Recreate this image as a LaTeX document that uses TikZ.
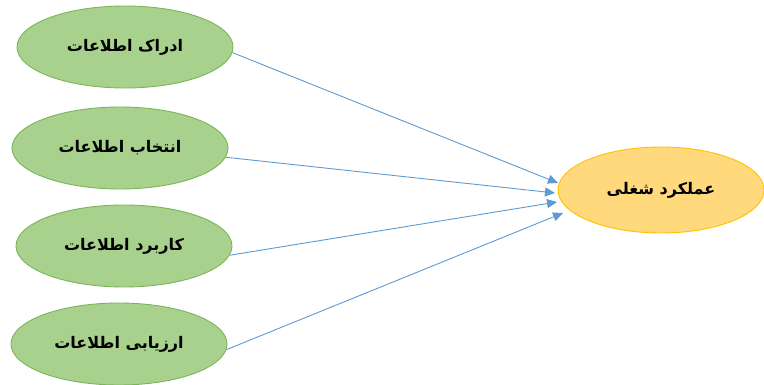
\documentclass[tikz,border=0pt]{standalone}
\usepackage{fontspec}
\newfontfamily\arabicfont[Script=Arabic]{DejaVu Sans}
\TeXXeTstate=1
\usetikzlibrary{shapes.geometric,arrows.meta}
\definecolor{gfill}{HTML}{A9D18E}
\definecolor{gdraw}{HTML}{7DB45A}
\definecolor{ofill}{HTML}{FFD97C}
\definecolor{odraw}{HTML}{FFC000}
\definecolor{ablue}{HTML}{5B9BD5}
\begin{document}
\begin{tikzpicture}[x=1pt,y=-1pt,
  gnode/.style={ellipse,draw=gdraw,fill=gfill,line width=0.9pt,minimum width=216pt,minimum height=82pt,inner sep=0pt,font=\arabicfont\bfseries\fontsize{16}{18}\selectfont},
  onode/.style={ellipse,draw=odraw,fill=ofill,line width=0.9pt,minimum width=206pt,minimum height=86pt,inner sep=0pt,font=\arabicfont\bfseries\fontsize{16}{18}\selectfont},
  conn/.style={draw=ablue,line width=0.9pt,-{Triangle[length=10pt,width=9pt]}}]
\useasboundingbox (0,0) rectangle (764,385);
\node[gnode] (a) at (125,47) {\beginR ادراک اطلاعات\endR};
\node[gnode] (b) at (120,148) {\beginR انتخاب اطلاعات\endR};
\node[gnode] (c) at (124,246) {\beginR کاربرد اطلاعات\endR};
\node[gnode] (d) at (119,344) {\beginR ارزیابی اطلاعات\endR};
\node[onode] (e) at (661,190) {\beginR عملکرد شغلی\endR};
\coordinate (t1) at (558,183);
\coordinate (t2) at (555,193);
\coordinate (t3) at (557,202);
\coordinate (t4) at (563,213);
\draw[conn] (a.-3) -- (t1);
\draw[conn] (b.-5) -- (t2);
\draw[conn] (c.-5) -- (t3);
\draw[conn] (d.-3) -- (t4);
\end{tikzpicture}
\end{document}
